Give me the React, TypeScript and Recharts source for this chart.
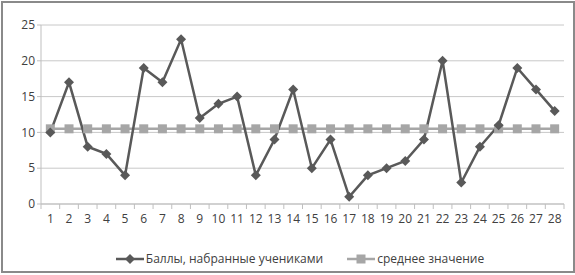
import { LineChart, Line, XAxis, YAxis, CartesianGrid, Legend } from 'recharts';

// values
const pupils = ['1', '2', '3', '4', '5', '6', '7', '8', '9', '10', '11', '12', '13', '14',
    '15', '16', '17', '18', '19', '20', '21', '22', '23', '24', '25', '26', '27', '28'];
const scores = [10, 17, 8, 7, 4, 19, 17, 23, 12, 14, 15, 4, 9, 16, 5, 9, 1, 4, 5, 6, 9, 20, 3, 8, 11, 19, 16, 13];
const average = [10.5, 10.5, 10.5, 10.5, 10.5, 10.5, 10.5, 10.5, 10.5, 10.5, 10.5, 10.5, 10.5, 10.5,
    10.5, 10.5, 10.5, 10.5, 10.5, 10.5, 10.5, 10.5, 10.5, 10.5, 10.5, 10.5, 10.5, 10.5];
const yTicks = [0, 5, 10, 15, 20, 25];

const scoreName = 'Баллы, набранные учениками';
const avgName = 'среднее значение';

const DARK = '#595959';
const LIGHT = '#a6a6a6';
const FONT = '"Open Sans", sans-serif';

const PLOT_W = 523;
const STEP = PLOT_W / pupils.length;

const data = pupils.map((p, i) => ({ pupil: p, score: scores[i], avg: average[i] }));

const Diamond = (props: any) => {
    const { cx, cy } = props;
    if (cx == null || cy == null) return null;
    const r = 5;
    return <polygon points={`${cx},${cy - r} ${cx + r},${cy} ${cx},${cy + r} ${cx - r},${cy}`} fill={DARK} />;
};

const Square = (props: any) => {
    const { cx, cy } = props;
    if (cx == null || cy == null) return null;
    return <rect x={cx - 4.5} y={cy - 4.5} width={9} height={9} fill={LIGHT} />;
};

// tick marks sit between categories like the original
const CategoryTick = (props: any) => {
    const { x, y, payload, index, visibleTicksCount } = props;
    return (
        <g>
            <line x1={x - STEP / 2} y1={y - 8} x2={x - STEP / 2} y2={y - 3} stroke="#bfbfbf" />
            {index === visibleTicksCount - 1 && (
                <line x1={x + STEP / 2} y1={y - 8} x2={x + STEP / 2} y2={y - 3} stroke="#bfbfbf" />
            )}
            <text x={x} y={y + 11} textAnchor="middle" fontSize={12} fill="#404040" fontFamily={FONT}>
                {payload.value}
            </text>
        </g>
    );
};

const LegendContent = () => (
    <div style={{ display: 'flex', justifyContent: 'center', gap: 24, marginLeft: 36, fontFamily: FONT, fontSize: 12, color: '#404040' }}>
        <div style={{ display: 'flex', alignItems: 'center' }}>
            <svg width={28} height={12} style={{ marginRight: 2 }}>
                <line x1={0} y1={6} x2={28} y2={6} stroke={DARK} strokeWidth={2.5} />
                <polygon points="14,1 19,6 14,11 9,6" fill={DARK} />
            </svg>
            <span>{scoreName}</span>
        </div>
        <div style={{ display: 'flex', alignItems: 'center' }}>
            <svg width={28} height={12} style={{ marginRight: 2 }}>
                <line x1={0} y1={6} x2={28} y2={6} stroke={LIGHT} strokeWidth={2.5} />
                <rect x={9.5} y={1.5} width={9} height={9} fill={LIGHT} />
            </svg>
            <span>{avgName}</span>
        </div>
    </div>
);

export default function App() {
    return (
        <div style={{ position: 'absolute', left: 0, top: 0, width: 575, height: 275, background: '#fff' }}>
            <div style={{ position: 'absolute', left: 1, top: 1, width: 570, height: 268, border: '2px solid #8a8a8a' }} />
            <LineChart width={575} height={275} data={data} margin={{ top: 25, right: 11, left: 0, bottom: 20 }}>
                <CartesianGrid vertical={false} stroke="#c8c8c8" />
                <XAxis
                    dataKey="pupil"
                    interval={0}
                    height={34}
                    padding={{ left: STEP / 2, right: STEP / 2 }}
                    tickLine={false}
                    axisLine={{ stroke: '#bfbfbf' }}
                    tick={<CategoryTick />}
                />
                <YAxis
                    width={41}
                    domain={[0, 25]}
                    ticks={yTicks}
                    interval={0}
                    tickLine={{ stroke: '#bfbfbf' }}
                    tickSize={4}
                    axisLine={{ stroke: '#bfbfbf' }}
                    tick={{ fontSize: 12, fill: '#404040', fontFamily: FONT }}
                />
                <Legend verticalAlign="bottom" content={<LegendContent />} wrapperStyle={{ bottom: 8 }} />
                <Line
                    dataKey="avg"
                    name={avgName}
                    stroke={LIGHT}
                    strokeWidth={2.5}
                    dot={<Square />}
                    activeDot={false}
                    isAnimationActive={false}
                />
                <Line
                    dataKey="score"
                    name={scoreName}
                    stroke={DARK}
                    strokeWidth={2.5}
                    dot={<Diamond />}
                    activeDot={false}
                    isAnimationActive={false}
                />
            </LineChart>
        </div>
    );
}
